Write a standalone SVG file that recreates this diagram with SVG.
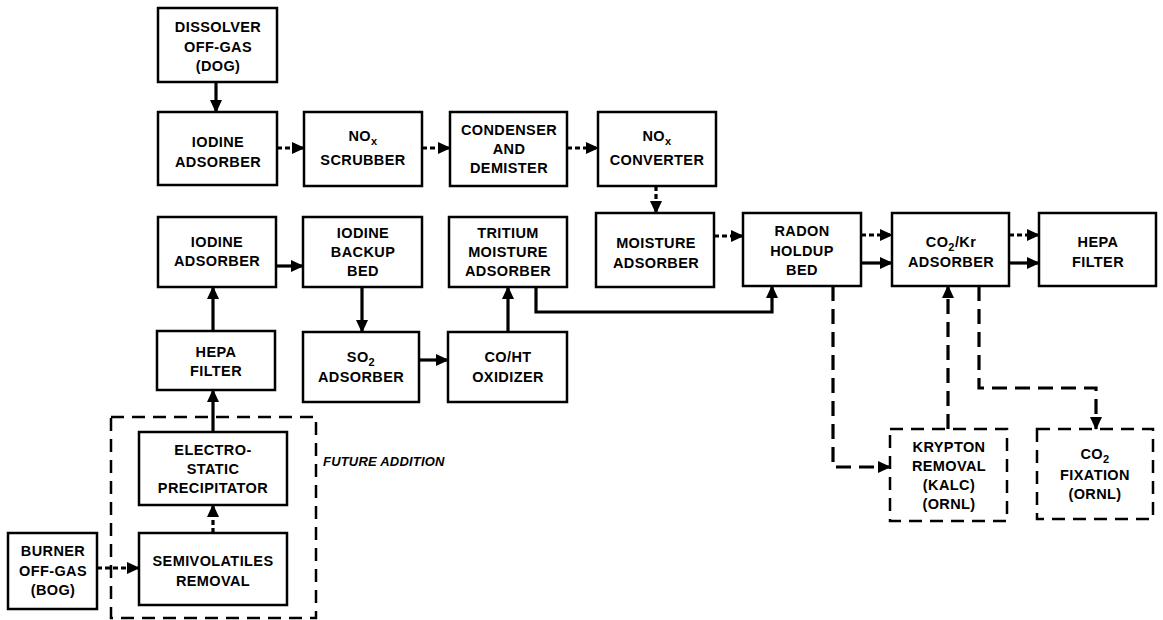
<svg xmlns="http://www.w3.org/2000/svg" width="1163" height="620" viewBox="0 0 1163 620">
  <style>
    .box { fill: #fff; stroke: #000; stroke-width: 2.5; }
    .dbox { fill: none; stroke: #000; stroke-width: 2.5; stroke-dasharray: 13 8; }
    .lbl { font-family: 'Liberation Sans', Arial, sans-serif; font-weight: bold; font-size: 14.5px; letter-spacing: 0.4px; text-anchor: middle; fill: #000; }
    .sub { font-size: 11px; }
    .note { font-family: 'Liberation Sans', Arial, sans-serif; font-weight: bold; font-style: italic; font-size: 13px; letter-spacing: 0.2px; fill: #000; }
    .flow { fill: none; stroke: #000; stroke-width: 3.2; }
    .short { stroke-dasharray: 5 3; }
    .long { stroke-dasharray: 15 8; }
  </style>
  <defs>
    <marker id="ah" viewBox="0 0 13 12" refX="12" refY="6" markerWidth="13" markerHeight="12" markerUnits="userSpaceOnUse" orient="auto">
      <path d="M0,0 L13,6 L0,12 Z" fill="#000"/>
    </marker>
  </defs>

  <rect width="1163" height="620" fill="#fff"/>

  <!-- process flow connectors -->
  <g id="connectors">
    <path class="flow" d="M216,82 V112" marker-end="url(#ah)"/>
    <path class="flow short" d="M277,148 H304" marker-end="url(#ah)"/>
    <path class="flow short" d="M422,148 H450" marker-end="url(#ah)"/>
    <path class="flow short" d="M567,148 H598" marker-end="url(#ah)"/>
    <path class="flow short" d="M656,186 V213" marker-end="url(#ah)"/>
    <path class="flow short" d="M714,236 H743" marker-end="url(#ah)"/>
    <path class="flow" d="M276,266 H303" marker-end="url(#ah)"/>
    <path class="flow" d="M362,287 V332" marker-end="url(#ah)"/>
    <path class="flow" d="M419,360 H448" marker-end="url(#ah)"/>
    <path class="flow" d="M508,332 V287" marker-end="url(#ah)"/>
    <path class="flow" d="M536,287 V312 H772 V286" marker-end="url(#ah)"/>
    <path class="flow short" d="M861,235 H892" marker-end="url(#ah)"/>
    <path class="flow" d="M861,263 H892" marker-end="url(#ah)"/>
    <path class="flow short" d="M1009,235 H1039" marker-end="url(#ah)"/>
    <path class="flow" d="M1009,263 H1039" marker-end="url(#ah)"/>
    <path class="flow" d="M213,331 V287" marker-end="url(#ah)"/>
    <path class="flow" d="M213,432 V390" marker-end="url(#ah)"/>
    <path class="flow short" d="M213,533 V505" marker-end="url(#ah)"/>
    <path class="flow short" d="M97,568 H139" marker-end="url(#ah)"/>
    <path class="flow long" d="M833,286 V467 H890" marker-end="url(#ah)"/>
    <path class="flow long" d="M948,429 V286" marker-end="url(#ah)"/>
    <path class="flow long" d="M979,286 V388 H1096 V429" marker-end="url(#ah)"/>
  </g>

  <!-- planned extension enclosure -->
  <g id="future-addition">
    <rect class="dbox" x="111" y="417" width="205" height="201"/>
    <text class="note" x="323" y="466">FUTURE ADDITION</text>
  </g>

  <g id="dog">
    <rect class="box" x="158" y="8" width="119" height="74"/>
    <text class="lbl"><tspan x="218" y="32">DISSOLVER</tspan><tspan x="218" y="52">OFF-GAS</tspan><tspan x="218" y="71">(DOG)</tspan></text>
  </g>
  <g id="iodine-adsorber-dog">
    <rect class="box" x="158" y="112" width="119" height="73"/>
    <text class="lbl"><tspan x="218" y="147">IODINE</tspan><tspan x="218" y="167">ADSORBER</tspan></text>
  </g>
  <g id="nox-scrubber">
    <rect class="box" x="304" y="112" width="118" height="74"/>
    <text class="lbl"><tspan x="363" y="141">NO<tspan class="sub" dy="4">x</tspan></tspan><tspan x="363" y="165">SCRUBBER</tspan></text>
  </g>
  <g id="condenser">
    <rect class="box" x="450" y="112" width="117" height="74"/>
    <text class="lbl"><tspan x="509" y="135">CONDENSER</tspan><tspan x="509" y="154">AND</tspan><tspan x="509" y="173">DEMISTER</tspan></text>
  </g>
  <g id="nox-converter">
    <rect class="box" x="598" y="112" width="118" height="74"/>
    <text class="lbl"><tspan x="657" y="141">NO<tspan class="sub" dy="4">x</tspan></tspan><tspan x="657" y="165">CONVERTER</tspan></text>
  </g>
  <g id="moisture-adsorber">
    <rect class="box" x="596" y="213" width="118" height="74"/>
    <text class="lbl"><tspan x="656" y="248">MOISTURE</tspan><tspan x="656" y="268">ADSORBER</tspan></text>
  </g>
  <g id="iodine-adsorber-bog">
    <rect class="box" x="158" y="217" width="118" height="70"/>
    <text class="lbl"><tspan x="217" y="247">IODINE</tspan><tspan x="217" y="266">ADSORBER</tspan></text>
  </g>
  <g id="iodine-backup-bed">
    <rect class="box" x="303" y="217" width="119" height="70"/>
    <text class="lbl"><tspan x="363" y="238">IODINE</tspan><tspan x="363" y="257">BACKUP</tspan><tspan x="363" y="276">BED</tspan></text>
  </g>
  <g id="tritium-adsorber">
    <rect class="box" x="449" y="217" width="118" height="70"/>
    <text class="lbl"><tspan x="508" y="238">TRITIUM</tspan><tspan x="508" y="257">MOISTURE</tspan><tspan x="508" y="276">ADSORBER</tspan></text>
  </g>
  <g id="radon-holdup-bed">
    <rect class="box" x="743" y="213" width="118" height="73"/>
    <text class="lbl"><tspan x="802" y="236">RADON</tspan><tspan x="802" y="256">HOLDUP</tspan><tspan x="802" y="275">BED</tspan></text>
  </g>
  <g id="co2-kr-adsorber">
    <rect class="box" x="892" y="213" width="117" height="73"/>
    <text class="lbl"><tspan x="951" y="247">CO<tspan class="sub" dy="4">2</tspan><tspan dy="-4">/Kr</tspan></tspan><tspan x="951" y="267">ADSORBER</tspan></text>
  </g>
  <g id="hepa-filter-out">
    <rect class="box" x="1039" y="213" width="117" height="73"/>
    <text class="lbl"><tspan x="1098" y="247">HEPA</tspan><tspan x="1098" y="267">FILTER</tspan></text>
  </g>
  <g id="so2-adsorber">
    <rect class="box" x="303" y="332" width="116" height="70"/>
    <text class="lbl"><tspan x="361" y="362">SO<tspan class="sub" dy="4">2</tspan></tspan><tspan x="361" y="382">ADSORBER</tspan></text>
  </g>
  <g id="co-ht-oxidizer">
    <rect class="box" x="448" y="332" width="119" height="70"/>
    <text class="lbl"><tspan x="508" y="362">CO/HT</tspan><tspan x="508" y="382">OXIDIZER</tspan></text>
  </g>
  <g id="hepa-filter-bog">
    <rect class="box" x="157" y="331" width="118" height="59"/>
    <text class="lbl"><tspan x="216" y="357">HEPA</tspan><tspan x="216" y="376">FILTER</tspan></text>
  </g>
  <g id="electrostatic-precipitator">
    <rect class="box" x="139" y="432" width="148" height="73"/>
    <text class="lbl"><tspan x="213" y="455">ELECTRO-</tspan><tspan x="213" y="474">STATIC</tspan><tspan x="213" y="493">PRECIPITATOR</tspan></text>
  </g>
  <g id="semivolatiles-removal">
    <rect class="box" x="139" y="533" width="148" height="72"/>
    <text class="lbl"><tspan x="213" y="566">SEMIVOLATILES</tspan><tspan x="213" y="586">REMOVAL</tspan></text>
  </g>
  <g id="bog">
    <rect class="box" x="8" y="533" width="89" height="76"/>
    <text class="lbl"><tspan x="53" y="556">BURNER</tspan><tspan x="53" y="576">OFF-GAS</tspan><tspan x="53" y="595">(BOG)</tspan></text>
  </g>
  <g id="krypton-removal">
    <rect class="dbox" x="890" y="429" width="117" height="92"/>
    <text class="lbl"><tspan x="949" y="452">KRYPTON</tspan><tspan x="949" y="471">REMOVAL</tspan><tspan x="949" y="490">(KALC)</tspan><tspan x="949" y="509">(ORNL)</tspan></text>
  </g>
  <g id="co2-fixation">
    <rect class="dbox" x="1037" y="429" width="116" height="90"/>
    <text class="lbl"><tspan x="1095" y="459">CO<tspan class="sub" dy="4">2</tspan></tspan><tspan x="1095" y="480">FIXATION</tspan><tspan x="1095" y="499">(ORNL)</tspan></text>
  </g>
</svg>
